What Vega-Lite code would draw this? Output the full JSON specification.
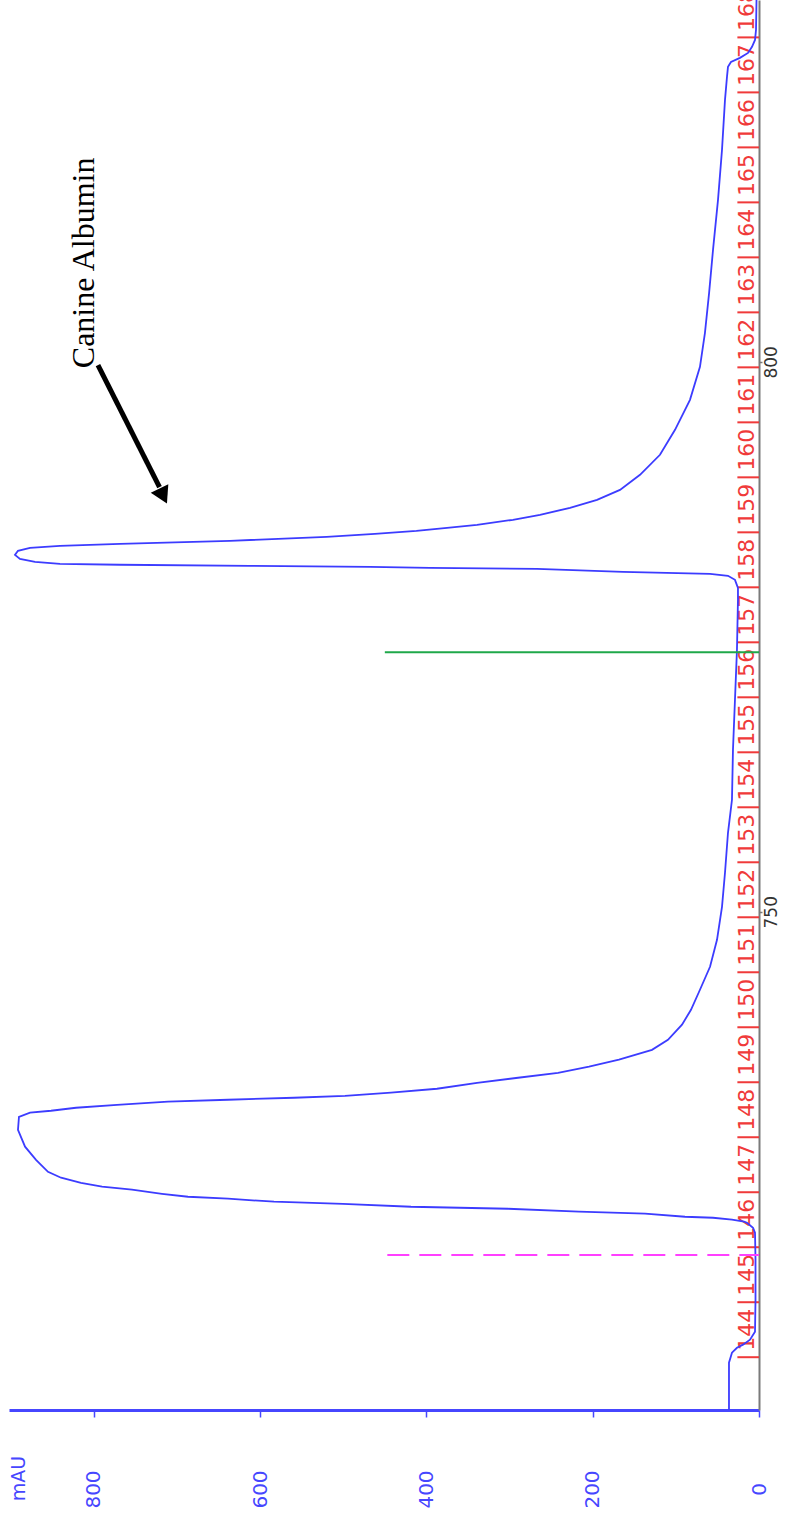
{
  "$schema": "https://vega.github.io/schema/vega-lite/v6.json",
  "width": 750,
  "height": 1410,
  "autosize": {"type": "none"},
  "padding": {"left": 9, "top": 0, "right": 26, "bottom": 112},
  "background": "white",
  "config": {"view": {"stroke": null}},
  "datasets": {
    "trace": [
      {"vol": 704.73, "mAU": 36.1}, {"vol": 709.0, "mAU": 36.1}, {"vol": 709.91, "mAU": 32.5}, {"vol": 710.36, "mAU": 26.5},
      {"vol": 710.64, "mAU": 19.2}, {"vol": 711.09, "mAU": 10.8}, {"vol": 711.82, "mAU": 4.8}, {"vol": 714.73, "mAU": 4.2},
      {"vol": 718.36, "mAU": 4.2}, {"vol": 720.82, "mAU": 4.8}, {"vol": 721.27, "mAU": 7.2}, {"vol": 721.73, "mAU": 14.4},
      {"vol": 721.82, "mAU": 18.0}, {"vol": 722.0, "mAU": 32.5}, {"vol": 722.18, "mAU": 55.3}, {"vol": 722.27, "mAU": 89.0},
      {"vol": 722.55, "mAU": 137.1}, {"vol": 722.73, "mAU": 216.5}, {"vol": 723.0, "mAU": 301.9}, {"vol": 723.18, "mAU": 418.5},
      {"vol": 723.45, "mAU": 500.3}, {"vol": 723.64, "mAU": 583.3}, {"vol": 723.91, "mAU": 638.6}, {"vol": 724.09, "mAU": 686.7},
      {"vol": 724.36, "mAU": 718.0}, {"vol": 724.73, "mAU": 754.1}, {"vol": 725.0, "mAU": 790.1}, {"vol": 725.36, "mAU": 815.4},
      {"vol": 725.82, "mAU": 839.4}, {"vol": 726.36, "mAU": 855.1}, {"vol": 727.45, "mAU": 869.5}, {"vol": 728.64, "mAU": 882.7},
      {"vol": 730.18, "mAU": 891.2}, {"vol": 731.36, "mAU": 890.0}, {"vol": 731.73, "mAU": 876.7}, {"vol": 731.91, "mAU": 851.5},
      {"vol": 732.18, "mAU": 821.4}, {"vol": 732.45, "mAU": 772.1}, {"vol": 732.73, "mAU": 710.8}, {"vol": 732.91, "mAU": 638.6},
      {"vol": 733.09, "mAU": 559.2}, {"vol": 733.27, "mAU": 497.9}, {"vol": 733.55, "mAU": 442.6}, {"vol": 733.91, "mAU": 387.3},
      {"vol": 734.45, "mAU": 339.1}, {"vol": 734.91, "mAU": 289.8}, {"vol": 735.36, "mAU": 241.7}, {"vol": 735.91, "mAU": 204.4},
      {"vol": 736.55, "mAU": 168.4}, {"vol": 737.45, "mAU": 128.7}, {"vol": 738.36, "mAU": 109.5}, {"vol": 739.73, "mAU": 92.6},
      {"vol": 741.09, "mAU": 81.8}, {"vol": 742.91, "mAU": 71.0},
      {"vol": 745.0, "mAU": 58.9}, {"vol": 747.45, "mAU": 50.5}, {"vol": 750.45, "mAU": 44.5}, {"vol": 753.55, "mAU": 40.9},
      {"vol": 757.18, "mAU": 37.3}, {"vol": 760.18, "mAU": 32.5}, {"vol": 764.73, "mAU": 31.3}, {"vol": 769.27, "mAU": 28.9},
      {"vol": 773.82, "mAU": 26.5}, {"vol": 778.36, "mAU": 25.3}, {"vol": 779.45, "mAU": 25.3}, {"vol": 780.18, "mAU": 28.9},
      {"vol": 780.55, "mAU": 37.3}, {"vol": 780.73, "mAU": 58.9}, {"vol": 780.91, "mAU": 163.6}, {"vol": 781.18, "mAU": 267.0},
      {"vol": 781.27, "mAU": 395.7}, {"vol": 781.36, "mAU": 467.8}, {"vol": 781.45, "mAU": 612.1}, {"vol": 781.55, "mAU": 768.5},
      {"vol": 781.64, "mAU": 840.7}, {"vol": 781.82, "mAU": 870.7}, {"vol": 782.09, "mAU": 888.8}, {"vol": 782.45, "mAU": 894.8},
      {"vol": 782.82, "mAU": 891.2}, {"vol": 783.09, "mAU": 876.7}, {"vol": 783.27, "mAU": 840.7}, {"vol": 783.45, "mAU": 768.5},
      {"vol": 783.73, "mAU": 636.2}, {"vol": 784.09, "mAU": 520.0}, {"vol": 784.36, "mAU": 462.0}, {"vol": 784.64, "mAU": 412.0},
      {"vol": 784.91, "mAU": 375.2}, {"vol": 785.18, "mAU": 339.1}, {"vol": 785.64, "mAU": 295.9}, {"vol": 786.09, "mAU": 263.4},
      {"vol": 786.73, "mAU": 227.3}, {"vol": 787.45, "mAU": 194.8}, {"vol": 788.36, "mAU": 167.2}, {"vol": 789.73, "mAU": 143.1},
      {"vol": 791.55, "mAU": 119.1}, {"vol": 793.82, "mAU": 101.0}, {"vol": 796.55, "mAU": 83.0}, {"vol": 799.55, "mAU": 71.0},
      {"vol": 802.64, "mAU": 65.0}, {"vol": 806.27, "mAU": 60.0}, {"vol": 810.18, "mAU": 55.3}, {"vol": 814.73, "mAU": 49.3},
      {"vol": 819.27, "mAU": 44.5}, {"vol": 823.82, "mAU": 40.9}, {"vol": 825.91, "mAU": 38.5}, {"vol": 826.82, "mAU": 37.3},
      {"vol": 827.27, "mAU": 33.7}, {"vol": 827.64, "mAU": 22.9}, {"vol": 828.09, "mAU": 13.2}, {"vol": 828.64, "mAU": 8.4},
      {"vol": 829.27, "mAU": 4.8}, {"vol": 830.18, "mAU": 3.6}, {"vol": 832.91, "mAU": 3.0}
    ],
    "bounds": [
      {"vol": 709.5}, {"vol": 714.5}, {"vol": 719.5}, {"vol": 724.5}, {"vol": 729.5}, {"vol": 734.5}, {"vol": 739.5},
      {"vol": 744.5}, {"vol": 749.5}, {"vol": 754.5}, {"vol": 759.5}, {"vol": 764.5}, {"vol": 769.5}, {"vol": 774.5},
      {"vol": 779.5}, {"vol": 784.5}, {"vol": 789.5}, {"vol": 794.5}, {"vol": 799.5}, {"vol": 804.5}, {"vol": 809.5},
      {"vol": 814.5}, {"vol": 819.5}, {"vol": 824.5}, {"vol": 829.5}
    ],
    "fractions": [
      {"vol": 712, "frac": "144"}, {"vol": 717, "frac": "145"}, {"vol": 722, "frac": "146"}, {"vol": 727, "frac": "147"},
      {"vol": 732, "frac": "148"}, {"vol": 737, "frac": "149"}, {"vol": 742, "frac": "150"}, {"vol": 747, "frac": "151"},
      {"vol": 752, "frac": "152"}, {"vol": 757, "frac": "153"}, {"vol": 762, "frac": "154"}, {"vol": 767, "frac": "155"},
      {"vol": 772, "frac": "156"}, {"vol": 777, "frac": "157"}, {"vol": 782, "frac": "158"}, {"vol": 787, "frac": "159"},
      {"vol": 792, "frac": "160"}, {"vol": 797, "frac": "161"}, {"vol": 802, "frac": "162"}, {"vol": 807, "frac": "163"},
      {"vol": 812, "frac": "164"}, {"vol": 817, "frac": "165"}, {"vol": 822, "frac": "166"}, {"vol": 827, "frac": "167"},
      {"vol": 832, "frac": "168"}
    ]
  },
  "layer": [
    {
      "data": {"name": "bounds"},
      "mark": {"type": "rule", "color": "#f03a3a", "strokeWidth": 2},
      "encoding": {
        "y": {"field": "vol", "type": "quantitative", "scale": {"domain": [704.7, 832.9], "nice": false, "zero": false},
          "axis": {"orient": "right", "values": [750, 800], "title": null, "domainColor": "#7a7a7a", "domainWidth": 2,
            "tickColor": "#7a7a7a", "tickSize": 3, "tickWidth": 1.5, "grid": false,
            "labelColor": "#333333", "labelFont": "DejaVu Sans", "labelFontSize": 17, "labelAngle": 270,
            "labelAlign": "center", "labelBaseline": "middle", "labelPadding": 9, "labelOverlap": false, "labelBound": false, "labelFlush": false}},
        "x": {"datum": 0, "type": "quantitative", "scale": {"domain": [0, 902], "reverse": true, "nice": false, "zero": false},
          "axis": {"orient": "bottom", "values": [0, 200, 400, 600, 800], "title": "mAU", "grid": false,
            "domainColor": "#4646ff", "domainWidth": 3, "tickColor": "#4646ff", "tickSize": 7, "tickWidth": 1.5,
            "labelColor": "#4646ff", "labelFont": "DejaVu Sans", "labelFontSize": 20, "labelAngle": 270,
            "labelAlign": "center", "labelBaseline": "middle", "labelPadding": 72, "labelOverlap": false, "labelBound": false, "labelFlush": false,
            "titleColor": "#4646ff", "titleFont": "DejaVu Sans", "titleFontSize": 19, "titleFontWeight": "normal",
            "titleAngle": 270, "titleAlign": "center", "titleBaseline": "middle", "titleX": 9, "titleY": 68}},
        "x2": {"datum": 26}
      }
    },
    {
      "data": {"name": "fractions"},
      "mark": {"type": "text", "color": "#f03a3a", "font": "DejaVu Sans", "fontSize": 22, "angle": 270, "align": "center", "baseline": "middle"},
      "encoding": {
        "y": {"field": "vol", "type": "quantitative"},
        "x": {"datum": 15, "type": "quantitative"},
        "text": {"field": "frac"}
      }
    },
    {
      "data": {"name": "trace"},
      "mark": {"type": "line", "color": "#3c3cff", "strokeWidth": 1.8},
      "encoding": {
        "y": {"field": "vol", "type": "quantitative"},
        "x": {"field": "mAU", "type": "quantitative"},
        "order": {"field": "vol", "type": "quantitative"}
      }
    },
    {
      "data": {"values": [{"vol": 773.6, "mAU": 450}]},
      "mark": {"type": "rule", "color": "#1fa84a", "strokeWidth": 2},
      "encoding": {
        "y": {"field": "vol", "type": "quantitative"},
        "x": {"field": "mAU", "type": "quantitative"},
        "x2": {"datum": 0}
      }
    },
    {
      "data": {"values": [{"vol": 718.8, "mAU": 447}]},
      "mark": {"type": "rule", "color": "#ff40ff", "strokeWidth": 2, "strokeDash": [22, 10]},
      "encoding": {
        "y": {"field": "vol", "type": "quantitative"},
        "x": {"field": "mAU", "type": "quantitative"},
        "x2": {"datum": 0}
      }
    },
    {
      "data": {"values": [{"vol": 809, "mAU": 812, "label": "Canine Albumin"}]},
      "mark": {"type": "text", "color": "black", "font": "Liberation Serif", "fontSize": 32, "angle": 270, "align": "center", "baseline": "middle"},
      "encoding": {
        "y": {"field": "vol", "type": "quantitative"},
        "x": {"field": "mAU", "type": "quantitative"},
        "text": {"field": "label"}
      }
    },
    {
      "data": {"values": [{"vol": 799.7, "mAU": 795, "vol2": 788.6, "mAU2": 721}]},
      "mark": {"type": "rule", "color": "black", "strokeWidth": 5},
      "encoding": {
        "y": {"field": "vol", "type": "quantitative"},
        "x": {"field": "mAU", "type": "quantitative"},
        "y2": {"field": "vol2"},
        "x2": {"field": "mAU2"}
      }
    },
    {
      "data": {"values": [{"vol": 787.8, "mAU": 716.5}]},
      "mark": {"type": "point", "shape": "triangle-down", "filled": true, "color": "black", "opacity": 1, "size": 380, "angle": 334},
      "encoding": {
        "y": {"field": "vol", "type": "quantitative"},
        "x": {"field": "mAU", "type": "quantitative"}
      }
    }
  ]
}
